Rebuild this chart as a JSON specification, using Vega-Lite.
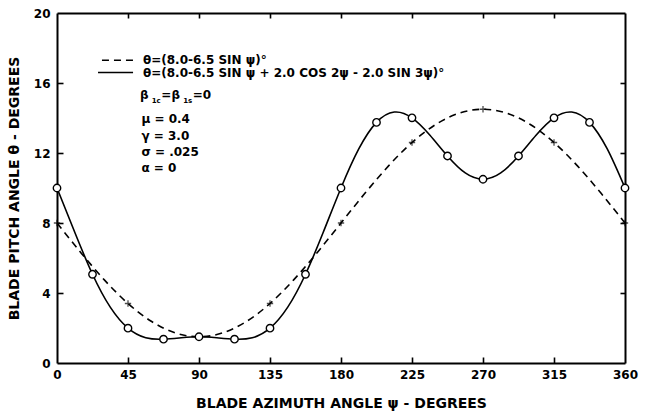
{
  "$schema": "https://vega.github.io/schema/vega-lite/v6.json",
  "width": 568,
  "height": 350,
  "autosize": {"type": "none"},
  "padding": {"left": 57, "top": 13, "right": 26, "bottom": 52},
  "background": "white",
  "config": {
    "view": {"stroke": null},
    "font": "DejaVu Sans",
    "axis": {
      "grid": false,
      "labelFlush": false,
      "domainColor": "black",
      "domainWidth": 2,
      "tickColor": "black",
      "tickWidth": 1.6,
      "labelColor": "black",
      "labelFont": "DejaVu Sans",
      "labelFontSize": 12,
      "labelFontWeight": "bold",
      "titleColor": "black",
      "titleFont": "DejaVu Sans",
      "titleFontSize": 14,
      "titleFontWeight": "bold"
    }
  },
  "datasets": {
    "dashed": [
      {"psi": 0, "theta": 8}, {"psi": 15, "theta": 6.32}, {"psi": 30, "theta": 4.75}, {"psi": 45, "theta": 3.4},
      {"psi": 60, "theta": 2.37}, {"psi": 75, "theta": 1.72}, {"psi": 90, "theta": 1.5}, {"psi": 105, "theta": 1.72},
      {"psi": 120, "theta": 2.37}, {"psi": 135, "theta": 3.4}, {"psi": 150, "theta": 4.75}, {"psi": 165, "theta": 6.32},
      {"psi": 180, "theta": 8}, {"psi": 195, "theta": 9.68}, {"psi": 210, "theta": 11.25}, {"psi": 225, "theta": 12.6},
      {"psi": 240, "theta": 13.63}, {"psi": 255, "theta": 14.28}, {"psi": 270, "theta": 14.5}, {"psi": 285, "theta": 14.28},
      {"psi": 300, "theta": 13.63}, {"psi": 315, "theta": 12.6}, {"psi": 330, "theta": 11.25}, {"psi": 345, "theta": 9.68},
      {"psi": 360, "theta": 8}
    ],
    "solid": [
      {"psi": 0, "theta": 10}, {"psi": 11.25, "theta": 7.47}, {"psi": 22.5, "theta": 5.07}, {"psi": 33.75, "theta": 3.19},
      {"psi": 45, "theta": 1.99}, {"psi": 56.25, "theta": 1.44}, {"psi": 67.5, "theta": 1.36}, {"psi": 78.75, "theta": 1.44},
      {"psi": 90, "theta": 1.5}, {"psi": 101.25, "theta": 1.44}, {"psi": 112.5, "theta": 1.36}, {"psi": 123.75, "theta": 1.44},
      {"psi": 135, "theta": 1.99}, {"psi": 146.25, "theta": 3.19}, {"psi": 157.5, "theta": 5.07}, {"psi": 168.75, "theta": 7.47},
      {"psi": 180, "theta": 10}, {"psi": 191.25, "theta": 12.23}, {"psi": 202.5, "theta": 13.75}, {"psi": 213.75, "theta": 14.34},
      {"psi": 225, "theta": 14.01}, {"psi": 236.25, "theta": 13.03}, {"psi": 247.5, "theta": 11.83}, {"psi": 258.75, "theta": 10.86},
      {"psi": 270, "theta": 10.5}, {"psi": 281.25, "theta": 10.86}, {"psi": 292.5, "theta": 11.83}, {"psi": 303.75, "theta": 13.03},
      {"psi": 315, "theta": 14.01}, {"psi": 326.25, "theta": 14.34}, {"psi": 337.5, "theta": 13.75}, {"psi": 348.75, "theta": 12.23},
      {"psi": 360, "theta": 10}
    ],
    "circles": [
      {"psi": 0, "theta": 10}, {"psi": 22.5, "theta": 5.07}, {"psi": 45, "theta": 1.99}, {"psi": 67.5, "theta": 1.36},
      {"psi": 90, "theta": 1.5}, {"psi": 112.5, "theta": 1.36}, {"psi": 135, "theta": 1.99}, {"psi": 157.5, "theta": 5.07},
      {"psi": 180, "theta": 10}, {"psi": 202.5, "theta": 13.75}, {"psi": 225, "theta": 14.01}, {"psi": 247.5, "theta": 11.83},
      {"psi": 270, "theta": 10.5}, {"psi": 292.5, "theta": 11.83}, {"psi": 315, "theta": 14.01}, {"psi": 337.5, "theta": 13.75},
      {"psi": 360, "theta": 10}
    ],
    "plus": [
      {"psi": 0, "theta": 8}, {"psi": 45, "theta": 3.4}, {"psi": 90, "theta": 1.5}, {"psi": 135, "theta": 3.4},
      {"psi": 180, "theta": 8}, {"psi": 225, "theta": 12.6}, {"psi": 270, "theta": 14.5}, {"psi": 315, "theta": 12.6},
      {"psi": 360, "theta": 8}
    ],
    "keys": [
      {"series": "dashed", "x1": 28.5, "x2": 48.2, "y": 17.3},
      {"series": "solid", "x1": 26.0, "x2": 48.2, "y": 16.6}
    ],
    "notes": [
      {"role": "main", "t": "θ=(8.0-6.5 SIN ψ)°", "x": 54.5, "y": 17.3},
      {"role": "main", "t": "θ=(8.0-6.5 SIN ψ + 2.0 COS 2ψ - 2.0 SIN 3ψ)°", "x": 54.5, "y": 16.6},
      {"role": "main", "t": "β", "x": 52.6, "y": 15.31},
      {"role": "sub", "t": "1c", "x": 60.0, "y": 14.95},
      {"role": "main", "t": "=", "x": 66.0, "y": 15.31},
      {"role": "main", "t": "β", "x": 72.5, "y": 15.31},
      {"role": "sub", "t": "1s", "x": 80.0, "y": 14.95},
      {"role": "main", "t": "=0", "x": 86.0, "y": 15.31},
      {"role": "main", "t": "μ = 0.4", "x": 53.5, "y": 13.97},
      {"role": "main", "t": "γ = 3.0", "x": 53.5, "y": 13.0},
      {"role": "main", "t": "σ = .025", "x": 53.5, "y": 12.06},
      {"role": "main", "t": "α = 0", "x": 53.5, "y": 11.14}
    ]
  },
  "resolve": {"axis": {"x": "independent", "y": "independent"}},
  "layer": [
    {
      "data": {"name": "dashed"},
      "mark": {"type": "line", "interpolate": "natural", "stroke": "black", "strokeWidth": 1.6, "strokeDash": [7, 5]},
      "encoding": {
        "x": {"field": "psi", "type": "quantitative", "scale": {"domain": [0, 360], "nice": false},
          "axis": {"values": [0, 45, 90, 135, 180, 225, 270, 315, 360], "ticks": false, "labelPadding": 6, "title": "BLADE AZIMUTH ANGLE ψ - DEGREES", "titlePadding": 16}},
        "y": {"field": "theta", "type": "quantitative", "scale": {"domain": [0, 20], "nice": false},
          "axis": {"values": [0, 4, 8, 12, 16, 20], "ticks": false, "labelPadding": 7, "title": "BLADE PITCH ANGLE θ - DEGREES", "titlePadding": 12}}
      }
    },
    {
      "data": {"name": "solid"},
      "mark": {"type": "line", "interpolate": "natural", "stroke": "black", "strokeWidth": 1.6},
      "encoding": {
        "x": {"field": "psi", "type": "quantitative", "scale": {"domain": [0, 360], "nice": false},
          "axis": {"orient": "top", "ticks": false, "labels": false, "title": null}},
        "y": {"field": "theta", "type": "quantitative", "scale": {"domain": [0, 20], "nice": false},
          "axis": {"orient": "right", "ticks": false, "labels": false, "title": null}}
      }
    },
    {
      "data": {"name": "plus"},
      "mark": {"type": "point", "shape": "M-1,0L1,0M0,-1L0,1", "filled": false, "stroke": "black", "strokeWidth": 1.3, "size": 40},
      "encoding": {
        "x": {"field": "psi", "type": "quantitative",
          "axis": {"orient": "bottom", "offset": -6, "values": [45, 90, 135, 180, 225, 270, 315], "tickSize": 6, "ticks": true, "domain": false, "labels": false, "title": null}},
        "y": {"field": "theta", "type": "quantitative",
          "axis": {"orient": "left", "offset": -6, "values": [4, 8, 12, 16], "tickSize": 6, "ticks": true, "domain": false, "labels": false, "title": null}}
      }
    },
    {
      "data": {"name": "circles"},
      "mark": {"type": "point", "shape": "circle", "filled": true, "fill": "white", "stroke": "black", "strokeWidth": 1.4, "size": 55, "opacity": 1},
      "encoding": {
        "x": {"field": "psi", "type": "quantitative",
          "axis": {"orient": "top", "offset": -5, "values": [45, 90, 135, 180, 225, 270, 315], "tickSize": 5, "ticks": true, "domain": false, "labels": false, "title": null}},
        "y": {"field": "theta", "type": "quantitative",
          "axis": {"orient": "right", "offset": -5, "values": [4, 8, 12, 16], "tickSize": 5, "ticks": true, "domain": false, "labels": false, "title": null}}
      }
    },
    {
      "data": {"name": "keys"},
      "transform": [{"filter": "datum.series === 'dashed'"}],
      "mark": {"type": "rule", "stroke": "black", "strokeWidth": 1.6, "strokeDash": [7, 5]},
      "encoding": {
        "x": {"field": "x1", "type": "quantitative", "axis": null},
        "x2": {"field": "x2"},
        "y": {"field": "y", "type": "quantitative", "axis": null}
      }
    },
    {
      "data": {"name": "keys"},
      "transform": [{"filter": "datum.series === 'solid'"}],
      "mark": {"type": "rule", "stroke": "black", "strokeWidth": 1.6},
      "encoding": {
        "x": {"field": "x1", "type": "quantitative", "axis": null},
        "x2": {"field": "x2"},
        "y": {"field": "y", "type": "quantitative", "axis": null}
      }
    },
    {
      "data": {"name": "notes"},
      "transform": [{"filter": "datum.role === 'main'"}],
      "mark": {"type": "text", "align": "left", "baseline": "middle", "font": "DejaVu Sans", "fontSize": 12, "fontWeight": "bold", "fill": "black"},
      "encoding": {
        "x": {"field": "x", "type": "quantitative", "axis": null},
        "y": {"field": "y", "type": "quantitative", "axis": null},
        "text": {"field": "t"}
      }
    },
    {
      "data": {"name": "notes"},
      "transform": [{"filter": "datum.role === 'sub'"}],
      "mark": {"type": "text", "align": "left", "baseline": "middle", "font": "DejaVu Sans", "fontSize": 7, "fontWeight": "bold", "fill": "black"},
      "encoding": {
        "x": {"field": "x", "type": "quantitative", "axis": null},
        "y": {"field": "y", "type": "quantitative", "axis": null},
        "text": {"field": "t"}
      }
    }
  ]
}
